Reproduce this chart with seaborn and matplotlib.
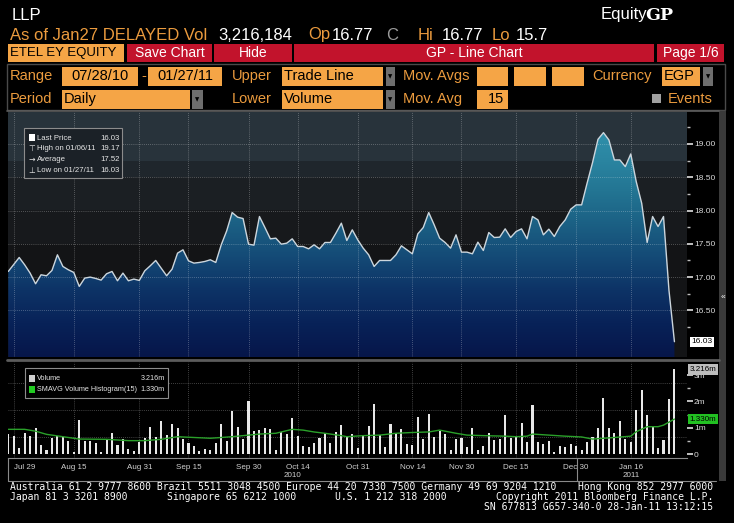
import numpy as np
import pandas as pd
import matplotlib
matplotlib.use('Agg')
import matplotlib.pyplot as plt
from matplotlib.colors import LinearSegmentedColormap, ListedColormap
from matplotlib.patches import Rectangle
import seaborn as sns

# daily closes, 07/28/10 - 01/27/11 (trading days)
price = [17.085, 17.19, 17.295, 17.185, 17.06, 16.90, 17.035, 17.02, 17.10, 17.335,
         17.16, 17.11, 17.07, 16.86, 16.985, 17.0, 16.98, 16.955, 17.05, 17.085,
         16.945, 17.06, 16.945, 16.97, 16.95, 17.095, 17.17, 17.25, 17.135, 17.02,
         17.12, 17.36, 17.41, 17.245, 17.21, 17.22, 17.235, 17.26, 17.22, 17.485,
         17.695, 17.97, 17.90, 17.88, 17.495, 17.48, 17.91, 17.745, 17.575, 17.585,
         17.495, 17.51, 17.575, 17.46, 17.46, 17.425, 17.485, 17.425, 17.52, 17.52,
         17.66, 17.81, 17.55, 17.71, 17.56, 17.435, 17.335, 17.16, 17.25, 17.25,
         17.25, 17.335, 17.47, 17.41, 17.35, 17.65, 17.745, 17.97, 17.785, 17.585,
         17.52, 17.435, 17.635, 17.375, 17.375, 17.35, 17.525, 17.40, 17.67, 17.595,
         17.60, 17.725, 17.595, 17.685, 17.725, 17.575, 17.91, 17.86, 17.635, 17.72,
         17.61, 17.76, 17.86, 18.02, 18.085, 18.085, 18.41, 18.72, 19.07, 19.17,
         19.06, 18.76, 18.76, 18.66, 18.85, 18.435, 18.11, 17.52, 17.91, 17.76,
         17.91, 16.8, 16.03]

# daily volume, millions
volume = [0.75, 0.68, 0.22, 0.79, 0.70, 0.99, 0.34, 0.15, 0.60, 0.68,
          0.66, 0.49, 0.09, 1.29, 0.49, 0.49, 0.41, 0.09, 0.53, 0.81,
          0.34, 0.57, 0.19, 0.11, 0.47, 0.60, 1.04, 0.66, 1.25, 0.71,
          1.14, 0.98, 0.57, 0.43, 0.30, 0.11, 0.20, 0.14, 0.41, 1.14,
          0.51, 1.65, 1.01, 0.57, 2.02, 0.87, 0.91, 1.0, 0.95, 0.15,
          0.85, 0.76, 1.36, 0.70, 0.30, 0.28, 0.41, 0.60, 0.79, 0.43,
          0.84, 1.10, 0.68, 0.75, 0.22, 0.72, 1.06, 1.90, 0.72, 0.28,
          1.13, 0.79, 0.95, 0.37, 0.34, 1.40, 0.57, 1.52, 0.63, 0.87,
          0.75, 0.15, 0.57, 0.61, 0.28, 1.0, 0.15, 0.30, 0.79, 0.53,
          0.57, 1.48, 0.62, 0.70, 1.17, 0.44, 1.86, 0.44, 0.37, 0.49,
          0.09, 0.32, 0.28, 0.37, 0.30, 0.15, 0.44, 0.66, 1.0, 2.12,
          0.98, 0.79, 1.25, 0.56, 0.47, 1.67, 2.43, 1.48, 1.02, 0.22,
          0.53, 2.09, 3.216]

# 15 day simple moving average of volume
smavg_day = [0, 3, 5, 7, 10, 13, 18, 22, 25, 28, 31, 37, 41, 46, 49, 52, 54, 56, 58, 61,
             62, 65, 68, 71, 74, 77, 79, 82, 84, 87, 91, 93, 95, 96, 99, 102, 105, 107,
             109, 111, 114, 115, 117, 119, 120, 122]
smavg = [0.94, 0.94, 0.87, 0.75, 0.66, 0.57, 0.56, 0.51, 0.51, 0.56, 0.66, 0.60, 0.66,
         0.76, 0.79, 0.94, 0.91, 0.84, 0.79, 0.70, 0.66, 0.70, 0.72, 0.79, 0.82, 0.84,
         0.91, 0.79, 0.72, 0.70, 0.68, 0.66, 0.68, 0.76, 0.72, 0.68, 0.65, 0.57, 0.60,
         0.63, 0.68, 0.85, 1.04, 1.04, 1.10, 1.33]

tick_day = [1, 12, 24, 33, 44, 53, 64, 74, 83, 93, 104, 114]
tick_label = ['Jul 29', 'Aug 15', 'Aug 31', 'Sep 15', 'Sep 30', 'Oct 14',
              'Oct 31', 'Nov 14', 'Nov 30', 'Dec 15', 'Dec 30', 'Jan 16']
price_ticks = [16.5, 17.0, 17.5, 18.0, 18.5, 19.0]
vol_ticks = [0, 1, 2, 3]
vol_tick_label = ['0', '1m', '2m', '3m']
last_price, high_price, avg_price, low_price = 16.03, 19.17, 17.52, 16.03
last_vol, last_smavg = 3.216, 1.330

df = pd.DataFrame({'day': np.arange(len(price)), 'price': price, 'volume': volume})

sns.set_style('dark')
SANS = ['Liberation Sans', 'DejaVu Sans']
MONO = ['DejaVu Sans Mono']
plt.rcParams['font.family'] = SANS

W, H = 734, 523
fig = plt.figure(figsize=(W / 100, H / 100), dpi=100, facecolor='black')


def frac(x0, y0, x1, y1):
    return [x0 / W, 1 - y1 / H, (x1 - x0) / W, (y1 - y0) / H]


# pixel canvas for the terminal chrome
bg = fig.add_axes([0, 0, 1, 1], zorder=0)
bg.set_xlim(0, W)
bg.set_ylim(H, 0)
bg.axis('off')

AMBER = '#eb9b3e'
ORANGE = '#f5a546'
RED = '#c2132c'

bg.text(12, 15, 'LLP', color='white', fontsize=12, va='center')
bg.text(601, 15, 'Equity', color='white', fontsize=12, va='center')
bg.text(645, 15, 'GP', color='white', fontsize=12.5, va='center', fontweight='bold',
        family='DejaVu Serif')
for x, s, c in [(10, 'As of Jan27 DELAYED Vol', AMBER), (218, '3,216,184', 'white'),
                (308, 'Op', AMBER), (332, '16.77', 'white'), (386, 'C', '#9a9a9a'),
                (418, 'Hi', AMBER), (442, '16.77', 'white'), (492, 'Lo', AMBER),
                (516, '15.7', 'white')]:
    bg.text(x, 35, s, color=c, fontsize=12, va='center')

# button row
bg.add_patch(Rectangle((8, 44), 116, 18, fc=ORANGE, ec='none'))
bg.text(10, 53, 'ETEL EY EQUITY', color='black', fontsize=9.5, va='center')
for x0, x1, s in [(127, 212, 'Save Chart'), (214, 292, 'Hide'),
                  (294, 654, 'GP - Line Chart'), (657, 724, 'Page 1/6')]:
    bg.add_patch(Rectangle((x0, 44), x1 - x0, 18, fc=RED, ec='none'))
    bg.text((x0 + x1) / 2, 53, s, color='white', fontsize=10, va='center', ha='center')

# settings rows
bg.add_patch(Rectangle((7, 64), 718, 46, fc='black', ec='#4a4a4a', lw=1))
for x, y, s in [(10, 76, 'Range'), (141, 76, '-'), (232, 76, 'Upper'), (403, 76, 'Mov. Avgs'),
                (592, 76, 'Currency'), (10, 99, 'Period'), (232, 99, 'Lower'),
                (403, 99, 'Mov. Avg'), (668, 99, 'Events')]:
    bg.text(x, y, s, color=AMBER, fontsize=10.5, va='center')
for x0, x1, y, s, ha in [(62, 138, 76, '07/28/10', 'center'), (148, 222, 76, '01/27/11', 'center'),
                         (282, 383, 76, 'Trade Line', 'left'), (477, 508, 76, '', 'left'),
                         (514, 546, 76, '', 'left'), (552, 584, 76, '', 'left'),
                         (662, 700, 76, 'EGP', 'left'), (62, 190, 99, 'Daily', 'left'),
                         (282, 383, 99, 'Volume', 'left'), (477, 508, 99, '15', 'right')]:
    bg.add_patch(Rectangle((x0, y - 9.5), x1 - x0, 19, fc=ORANGE, ec='none'))
    tx = {'left': x0 + 2, 'center': (x0 + x1) / 2, 'right': x1 - 4}[ha]
    bg.text(tx, y, s, color='black', fontsize=10.5, va='center', ha=ha)
for x0, x1, y in [(386, 395, 76), (703, 713, 76), (192, 203, 99), (386, 395, 99)]:
    bg.add_patch(Rectangle((x0, y - 9.5), x1 - x0, 19, fc='#6e6e6e', ec='none'))
    bg.text((x0 + x1) / 2, y + 1, '\u25bc', color='black', fontsize=4, ha='center', va='center',
            family='DejaVu Sans')
bg.add_patch(Rectangle((652, 94), 9, 9, fc='#a0a0a0', ec='none'))

# chart frame
LINE = '#5c5c5c'
bg.plot([7, 719], [111, 111], color=LINE, lw=1.2)
bg.plot([7, 719], [360, 360], color=LINE, lw=2)
bg.plot([8, 716], [481, 481], color='#8a8a8a', lw=0.8)
bg.plot([8, 8], [458, 481], color='#8a8a8a', lw=0.8)
bg.plot([577, 577], [458, 481], color='#8a8a8a', lw=0.8)
bg.add_patch(Rectangle((719, 111), 7, 370, fc='#3a3a3a', ec='none'))
bg.text(722.5, 297, '\u00ab', color='white', fontsize=6, ha='center', va='center')

# footer
FOOT = dict(color='white', fontsize=7.0, family=MONO, va='center')
bg.text(10, 487, 'Australia 61 2 9777 8600 Brazil 5511 3048 4500 Europe 44 20 7330 7500 '
                 'Germany 49 69 9204 1210', **FOOT)
bg.text(713, 487, 'Hong Kong 852 2977 6000', ha='right', **FOOT)
bg.text(10, 497, 'Japan 81 3 3201 8900', **FOOT)
bg.text(167, 497, 'Singapore 65 6212 1000', **FOOT)
bg.text(335, 497, 'U.S. 1 212 318 2000', **FOOT)
bg.text(713, 497, 'Copyright 2011 Bloomberg Finance L.P.', ha='right', **FOOT)
bg.text(713, 507, 'SN 677813 G657-340-0 28-Jan-11 13:12:15', ha='right', **FOOT)

# ---- price panel
xlo, xhi = -0.05, len(price) + 1.3
ylo, yhi = 15.8, 19.48
axp = fig.add_axes(frac(8, 112, 687, 357), zorder=1)
yy = np.linspace(ylo, yhi, 500)[:, None]
bands = np.select([yy >= 18.75, yy >= 18.5, yy >= 18.0, yy >= 17.5], [0, 1, 2, 3], 4)
axp.imshow(bands, cmap=ListedColormap(['#28333b', '#1f262c', '#1b1f23', '#17191c', '#131416']),
           vmin=0, vmax=4, extent=[xlo, xhi, ylo, yhi], origin='lower', aspect='auto',
           interpolation='nearest', zorder=0)
fill_cmap = LinearSegmentedColormap.from_list(
    'bbg', ['#06164a', '#082258', '#0d3366', '#144a76', '#1b6084', '#237593', '#2b86a2', '#3193ad'])
grad = axp.imshow(yy, cmap=fill_cmap, vmin=ylo, vmax=19.3, extent=[xlo, xhi, ylo, yhi],
                  origin='lower', aspect='auto', zorder=1)
area = axp.fill_between(df['day'], df['price'], ylo, facecolor='none', edgecolor='none')
grad.set_clip_path(area.get_paths()[0], axp.transData)

DOT = dict(color='white', lw=0.6, ls=(0, (1, 1.5)), alpha=0.35, zorder=2)
for v in price_ticks:
    axp.axhline(v, **DOT)
for d in tick_day:
    axp.axvline(d, **DOT)

sns.lineplot(data=df, x='day', y='price', ax=axp, color='#ccd6dd', lw=1, zorder=3)
axp.set(xlabel='', ylabel='', xlim=(xlo, xhi), ylim=(ylo, yhi))
axp.grid(False)
axp.set_xticks([])
axp.yaxis.tick_right()
axp.set_yticks(price_ticks, [f'{v:.2f}' for v in price_ticks])
axp.set_yticks(np.arange(16.25, 19.3, 0.5), minor=True)
axp.tick_params(axis='y', which='major', direction='out', length=4, width=1.2, color='#e0e0e0',
                labelsize=6, labelcolor='#d8d8d8', pad=1)
axp.tick_params(axis='y', which='minor', direction='out', length=2.5, width=1, color='#bdbdbd')
for s in axp.spines.values():
    s.set_visible(False)
axp.annotate(f'{last_price:.2f}', xy=(1, last_price), xycoords=('axes fraction', 'data'),
             xytext=(3, 0), textcoords='offset points', ha='left', va='center', fontsize=6,
             color='black', bbox=dict(boxstyle='square,pad=0.2', fc='white', ec='none'),
             annotation_clip=False)

# ---- volume panel
axv = fig.add_axes(frac(8, 362, 687, 458), zorder=1)
axv.set_facecolor('black')
sns.barplot(data=df, x='day', y='volume', ax=axv, native_scale=True, color='#e8e8e8',
            saturation=1, width=0.38, errorbar=None, edgecolor='none')
sns.lineplot(x=smavg_day, y=smavg, ax=axv, color='#2aa02a', lw=1, zorder=3)
for v in [0.65, 1.67, 2.7]:
    axv.axhline(v, **DOT)
for d in tick_day:
    axv.axvline(d, **DOT)
axv.set(xlabel='', ylabel='', xlim=(xlo, xhi), ylim=(-0.15, 3.5))
axv.grid(False)
axv.yaxis.tick_right()
axv.set_yticks(vol_ticks, vol_tick_label)
axv.set_yticks([0.5, 1.5, 2.5], minor=True)
axv.tick_params(axis='y', which='major', direction='out', length=4, width=1.2, color='#e0e0e0',
                labelsize=6, labelcolor='#d8d8d8', pad=1)
axv.tick_params(axis='y', which='minor', direction='out', length=2.5, width=1, color='#bdbdbd')
axv.set_xticks(tick_day, tick_label)
axv.set_xticks([], minor=True)
axv.tick_params(axis='x', direction='out', length=3, width=0.8, color='#bdbdbd', labelsize=5.8,
                labelcolor='#d0d0d0', pad=1.5)
axv.get_xticklabels()[0].set_horizontalalignment('left')
for k, s in axv.spines.items():
    s.set_visible(k == 'bottom')
axv.spines['bottom'].set_color('#8a8a8a')
axv.spines['bottom'].set_linewidth(0.8)
for v, fc, tc in [(last_vol, '#bdbdbd', 'black'), (last_smavg, '#22c022', 'black')]:
    axv.annotate(f'{v:.3f}m', xy=(1, v), xycoords=('axes fraction', 'data'), xytext=(2, 0),
                 textcoords='offset points', ha='left', va='center', fontsize=5.8, color=tc,
                 bbox=dict(boxstyle='square,pad=0.2', fc=fc, ec='none'), annotation_clip=False)
ytr = axv.get_xaxis_transform()
axv.text(52, -0.185, '2010', transform=ytr, ha='center', va='center', fontsize=5.8, color='#d0d0d0')
axv.text(114, -0.185, '2011', transform=ytr, ha='center', va='center', fontsize=5.8, color='#d0d0d0')

# ---- legends drawn on top
fg = fig.add_axes([0, 0, 1, 1], zorder=5)
fg.set_xlim(0, W)
fg.set_ylim(H, 0)
fg.axis('off')
LEG = dict(color='#e6e6e6', fontsize=5.6, va='center')
fg.add_patch(Rectangle((24, 128), 98, 50, fc='#1b2127', ec='#8c8c8c', lw=0.8))
fg.add_patch(Rectangle((29, 134), 6, 7, fc='white', ec='none'))
rows = [('Last Price', last_price, None), ('High on 01/06/11', high_price, '\u22a4'),
        ('Average', avg_price, '\u2192'), ('Low on 01/27/11', low_price, '\u22a5')]
for i, (lab, val, glyph) in enumerate(rows):
    y = 138 + i * 10.8
    if glyph:
        fg.text(32, y, glyph, ha='center', family='DejaVu Sans', **LEG)
    fg.text(37, y, lab, **LEG)
    fg.text(120, y, f'{val:.2f}', ha='right', **LEG)
VLEG = dict(LEG, fontsize=5.2)
fg.add_patch(Rectangle((25, 368), 143, 30, fc='black', ec='#8c8c8c', lw=0.8))
fg.add_patch(Rectangle((29, 375), 6, 7, fc='#cfcfcf', ec='none'))
fg.add_patch(Rectangle((29, 386), 6, 7, fc='#22cc22', ec='none'))
fg.text(37, 378.5, 'Volume', **VLEG)
fg.text(37, 389.5, 'SMAVG Volume Histogram(15)', **VLEG)
fg.text(165, 378.5, f'{last_vol:.3f}m', ha='right', **VLEG)
fg.text(165, 389.5, f'{last_smavg:.3f}m', ha='right', **VLEG)

fig.savefig('out.png', dpi=100, facecolor='black')
